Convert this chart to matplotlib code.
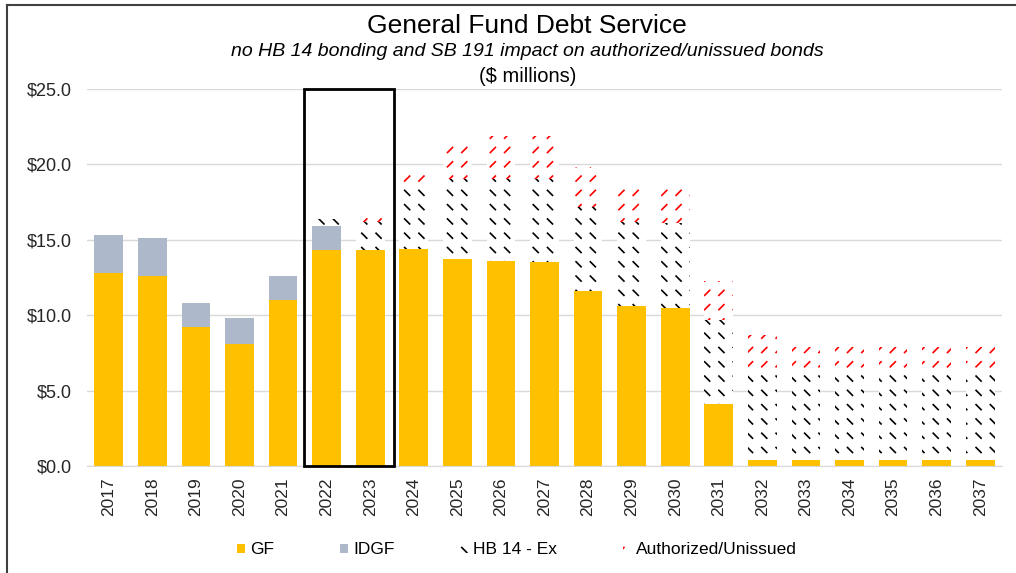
import warnings
import numpy as np
import matplotlib
matplotlib.use("Agg")
import matplotlib.pyplot as plt
import matplotlib.hatch as mhatch
from matplotlib.patches import Rectangle, Patch
from matplotlib.lines import Line2D
from matplotlib.path import Path

warnings.filterwarnings("ignore")

years = [str(y) for y in range(2017, 2038)]
gf = [12.8, 12.6, 9.2, 8.1, 11.0, 14.3, 14.3, 14.4, 13.7, 13.6, 13.5,
      11.6, 10.6, 10.5, 4.1, 0.4, 0.4, 0.4, 0.4, 0.4, 0.4]
idgf = [2.5, 2.5, 1.6, 1.7, 1.6, 1.6, 0, 0, 0, 0, 0,
        0, 0, 0, 0, 0, 0, 0, 0, 0, 0]
hb14 = [0, 0, 0, 0, 0, 0.5, 1.9, 4.1, 5.3, 5.4, 5.5,
        5.6, 5.6, 5.6, 5.6, 5.8, 5.7, 5.7, 5.7, 5.7, 5.7]
auth = [0, 0, 0, 0, 0, 0, 0.5, 1.2, 2.6, 2.9, 2.9,
        2.6, 2.6, 2.7, 2.6, 2.5, 1.8, 1.8, 1.8, 1.8, 1.8]
legend_labels = ["GF", "IDGF", "HB 14 - Ex", "Authorized/Unissued"]


# excel style dashed diagonal fill: 'd' = dashes going down, 'u' = going up
class DashHatch(mhatch.HatchPatternBase):
    def __init__(self, hatch, density):
        self.up = hatch.count("u") > 0
        self.n = 7
        self.num_vertices = self.n * self.n * 2 if ("d" in hatch or "u" in hatch) else 0

    def set_vertices_and_codes(self, vertices, codes):
        L = 0.05
        k = 0
        for i in range(self.n):
            for j in range(self.n):
                cx = (i + 0.5) / self.n
                cy = (j + 0.5) / self.n
                if self.up:
                    vertices[k] = (cx - L / 2, cy - L / 2)
                    vertices[k + 1] = (cx + L / 2, cy + L / 2)
                else:
                    vertices[k] = (cx - L / 2, cy + L / 2)
                    vertices[k + 1] = (cx + L / 2, cy - L / 2)
                codes[k] = Path.MOVETO
                codes[k + 1] = Path.LINETO
                k += 2


mhatch._hatch_types.append(DashHatch)

plt.rcParams["font.family"] = ["Liberation Sans", "DejaVu Sans"]
plt.rcParams["hatch.linewidth"] = 1.2

fig = plt.figure(figsize=(10.16, 5.73), dpi=100)
ax = fig.add_axes([87 / 1016, 1 - 466 / 573, 915 / 1016, 377 / 573])

x = np.arange(len(years))
w = 0.66
b1 = np.array(gf)
b2 = b1 + np.array(idgf)
b3 = b2 + np.array(hb14)

ax.bar(x, gf, w, color="#FFC000", zorder=2)
ax.bar(x, idgf, w, bottom=b1, color="#ADB9CA", zorder=2)
ax.bar(x, hb14, w, bottom=b2, facecolor="white", edgecolor="black", linewidth=0, hatch="d", zorder=2)
ax.bar(x, auth, w, bottom=b3, facecolor="white", edgecolor="red", linewidth=0, hatch="u", zorder=2)

# box around 2022-2023
ax.add_patch(Rectangle((4.47, 0), 2.08, 25, fill=False, ec="black", lw=2, clip_on=False, zorder=5))

ax.set_xlim(-0.5, len(years) - 0.5)
ax.set_ylim(0, 25)
ax.set_yticks(np.arange(0, 26, 5))
ax.set_yticklabels(["$%.1f" % v for v in np.arange(0, 26, 5)], fontsize=13, color="#262626")
ax.set_xticks(x)
ax.set_xticklabels(years, rotation=90, fontsize=12.5, color="#262626")
ax.tick_params(axis="y", length=0, pad=11)
ax.tick_params(axis="x", length=0, pad=8)
ax.grid(axis="y", color="#d9d9d9", lw=1, zorder=0)
ax.set_axisbelow(True)
for s in ["top", "right", "left"]:
    ax.spines[s].set_visible(False)
ax.spines["bottom"].set_color("#d9d9d9")

fig.text(0.519, 1 - 26 / 573, "General Fund Debt Service", ha="center", va="center", fontsize=19)
fig.text(0.519, 1 - 51 / 573, "no HB 14 bonding and SB 191 impact on authorized/unissued bonds",
         ha="center", va="center", fontsize=14, style="italic")
fig.text(0.519, 1 - 76 / 573, "($ millions)", ha="center", va="center", fontsize=14.5)

handles = [Patch(facecolor="#FFC000"), Patch(facecolor="#ADB9CA"),
           Patch(facecolor="white", edgecolor="black", linewidth=0, hatch="d"),
           Patch(facecolor="white", edgecolor="red", linewidth=0, hatch="u")]
fig.legend(handles, legend_labels, loc="center", bbox_to_anchor=(0.509, 1 - 550 / 573), ncol=4,
           frameon=False, fontsize=12.5, handlelength=0.45, handleheight=0.45,
           handletextpad=0.3, columnspacing=3.8)

# outer border (chart area is cropped on right/bottom)
fig.add_artist(Line2D([7 / 1016, 1], [1 - 5 / 573] * 2, transform=fig.transFigure, color="#404040", lw=1.5))
fig.add_artist(Line2D([7 / 1016] * 2, [0, 1 - 5 / 573], transform=fig.transFigure, color="#404040", lw=1.5))

fig.savefig("out.png", dpi=100)
